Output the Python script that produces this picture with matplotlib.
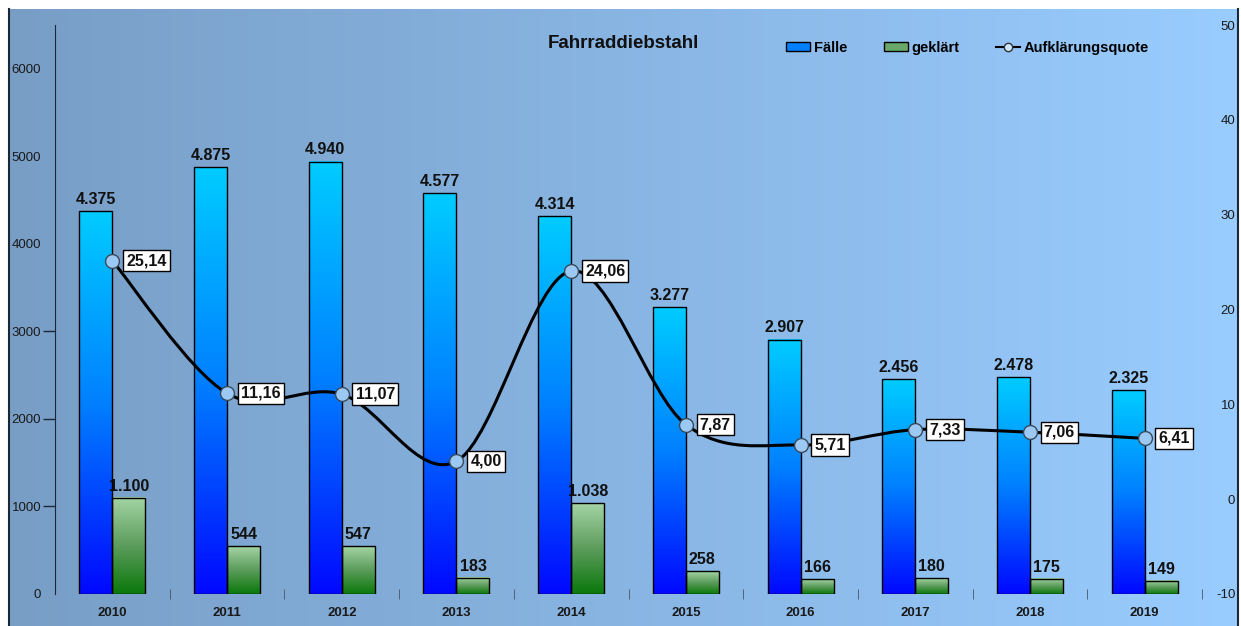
import numpy as np
import matplotlib
matplotlib.use("Agg")
import matplotlib.pyplot as plt
from matplotlib.colors import LinearSegmentedColormap
from matplotlib.path import Path
from matplotlib.patches import PathPatch, Patch
from matplotlib.lines import Line2D

plt.rcParams['font.family'] = ['Liberation Sans', 'DejaVu Sans']
plt.rcParams['axes.unicode_minus'] = False

# data
jahre = ['2010', '2011', '2012', '2013', '2014', '2015', '2016', '2017', '2018', '2019']
faelle = [4375, 4875, 4940, 4577, 4314, 3277, 2907, 2456, 2478, 2325]
geklaert = [1100, 544, 547, 183, 1038, 258, 166, 180, 175, 149]
quote = [25.14, 11.16, 11.07, 4.00, 24.06, 7.87, 5.71, 7.33, 7.06, 6.41]

W, H = 1241, 626
fig = plt.figure(figsize=(W / 100, H / 100), dpi=100, facecolor='white')

# background gradient (left darker, right lighter)
bg = fig.add_axes([9 / W, 0, (1238 - 9) / W, (H - 9) / H])
bg.set_zorder(0)
bg_cmap = LinearSegmentedColormap.from_list('bg', ['#789ec6', '#99ccff'])
bg.imshow(np.linspace(0, 1, 256).reshape(1, -1), cmap=bg_cmap, aspect='auto',
          extent=[0, 1, 0, 1])
bg.set_xlim(0, 1)
bg.set_ylim(0, 1)
bg.axis('off')
bg.plot([0, 0], [0, 1], color='#1c2836', lw=1.5, transform=bg.transAxes, clip_on=False)
bg.plot([1, 1], [0, 1], color='#1c2836', lw=1.5, transform=bg.transAxes, clip_on=False)

ax = fig.add_axes([55 / W, (H - 594) / H, (1202 - 55) / W, (594 - 25) / H])
ax.set_zorder(1)
ax.patch.set_visible(False)

x = np.arange(len(jahre))
bw = 0.288
blue_cmap = LinearSegmentedColormap.from_list('blau', ['#0008ff', '#0080ff', '#00ccff'])
green_cmap = LinearSegmentedColormap.from_list('gruen', ['#0a780a', '#5c9c5c', '#a4d4a4'])
grad = np.linspace(0, 1, 256).reshape(-1, 1)

for i in range(len(jahre)):
    x0 = x[i] - bw
    ax.imshow(grad, cmap=blue_cmap, origin='lower', aspect='auto',
              extent=[x0, x0 + bw, 0, faelle[i]], zorder=2)
    ax.imshow(grad, cmap=green_cmap, origin='lower', aspect='auto',
              extent=[x[i], x[i] + bw, 0, geklaert[i]], zorder=2)

ax.bar(x - bw / 2, faelle, bw, fill=False, edgecolor='black', lw=1, zorder=3)
ax.bar(x + bw / 2, geklaert, bw, fill=False, edgecolor='black', lw=1, zorder=3)

for i in range(len(jahre)):
    ax.annotate(f'{faelle[i]:,}'.replace(',', '.'), (x[i] - bw / 2, faelle[i]),
                xytext=(0, 3), textcoords='offset points', ha='center', va='bottom',
                fontsize=11.5, fontweight='bold', color='#111111', zorder=4)
    ax.annotate(f'{geklaert[i]:,}'.replace(',', '.'), (x[i] + bw / 2, geklaert[i]),
                xytext=(0, 3), textcoords='offset points', ha='center', va='bottom',
                fontsize=11.5, fontweight='bold', color='#111111', zorder=4)

ax.set_xlim(-0.5, 9.5)
ax.set_ylim(0, 6500)
# labels on major ticks, visible tick marks only at 1000-3000 (minor)
ax.yaxis.remove_overlapping_locs = False
ax.set_yticks([0, 1000, 2000, 3000, 4000, 5000, 6000])
ax.set_yticks([1000, 2000, 3000], minor=True)
ax.tick_params(axis='y', which='major', length=0, pad=10,
               labelsize=9.5, labelcolor='#1a1a1a')
ax.tick_params(axis='y', which='minor', length=8.5, width=1, color='#1c2836')
ax.set_xticks(x)
ax.set_xticklabels(jahre, fontweight='bold', fontsize=9.5)
ax.set_xticks(np.arange(0.5, 10, 1), minor=True)
ax.tick_params(axis='x', which='major', length=0, pad=9, labelcolor='#1a1a1a')
ax.tick_params(axis='x', which='minor', length=7, direction='inout', color='#44556a')
for s in ['top', 'right', 'bottom']:
    ax.spines[s].set_visible(False)
ax.spines['left'].set_color('#1c2836')

# Aufklärungsquote on the right axis, smoothed line
ax2 = ax.twinx()
ax2.set_zorder(2)
ax2.patch.set_visible(False)
ax2.set_ylim(-10, 50)
ax2.set_yticks([-10, 0, 10, 20, 30, 40, 50])
ax2.tick_params(axis='y', length=0, pad=24, labelsize=9.5, labelcolor='#1a1a1a')
for lbl in ax2.get_yticklabels():
    lbl.set_horizontalalignment('right')
for s in ax2.spines.values():
    s.set_visible(False)

pts = np.column_stack([x, quote]).astype(float)
ext = np.vstack([pts[0], pts, pts[-1]])
verts = [tuple(pts[0])]
codes = [Path.MOVETO]
for i in range(len(pts) - 1):
    p0, p1, p2, p3 = ext[i], ext[i + 1], ext[i + 2], ext[i + 3]
    c1 = p1 + (p2 - p0) / 6
    c2 = p2 - (p3 - p1) / 6
    verts += [tuple(c1), tuple(c2), tuple(p2)]
    codes += [Path.CURVE4] * 3
ax2.add_patch(PathPatch(Path(verts, codes), facecolor='none', edgecolor='black',
                        lw=2.2, zorder=3))
ax2.plot(x, quote, ls='none', marker='o', markersize=10, mfc='#9cc8f4',
         mec='#3a4a5a', mew=1, zorder=4)
for i in range(len(jahre)):
    ax2.annotate(f'{quote[i]:.2f}'.replace('.', ','), (x[i], quote[i]),
                 xytext=(10, 0), textcoords='offset points', ha='left', va='center',
                 fontsize=11.5, fontweight='bold', color='#111111', zorder=5,
                 bbox=dict(boxstyle='square,pad=0.2', fc='white', ec='black', lw=1))

fig.text(623 / W, 1 - 44 / H, 'Fahrraddiebstahl', ha='center', va='center',
         fontsize=13.5, fontweight='bold', color='#111111')

handles = [Patch(facecolor='#0080ff', edgecolor='black'),
           Patch(facecolor='#6aa86a', edgecolor='black'),
           Line2D([], [], color='black', lw=1.5, marker='o', markersize=6,
                  mfc='#cfe6ff', mec='#333333')]
fig.legend(handles, ['Fälle', 'geklärt', 'Aufklärungsquote'], ncol=3,
           loc='center left', bbox_to_anchor=(786 / W, 1 - 48 / H), frameon=False,
           borderpad=0, borderaxespad=0, handlelength=1.65, handleheight=0.55,
           handletextpad=0.25, columnspacing=2.5, prop={'weight': 'bold', 'size': 10.5})

fig.savefig('out.png', dpi=100, facecolor='white')
